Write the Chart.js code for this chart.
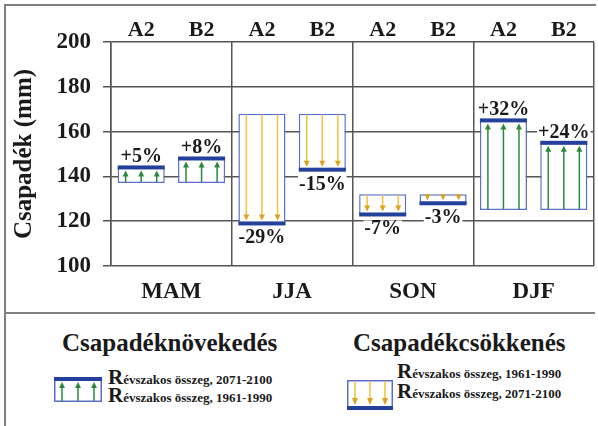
<!DOCTYPE html>
<html>
<head>
<meta charset="utf-8">
<script src="https://cdn.jsdelivr.net/npm/chart.js@4/dist/chart.umd.min.js"></script>
<style>
html,body{margin:0;padding:0;background:#fff;}
body{width:598px;height:426px;position:relative;overflow:hidden;font-family:'Liberation Serif',serif;color:#1a1a1a;}
#frameL{position:absolute;left:4px;top:4px;width:2px;height:430px;background:#808080;}
#frameT{position:absolute;left:4px;top:4px;width:592px;height:2px;background:#808080;}
#divider{position:absolute;left:4px;top:312px;width:591px;height:2px;background:#808080;}
#chartBox{position:absolute;left:6px;top:6px;width:592px;height:306px;}
.leg{position:absolute;font-family:'Liberation Serif',serif;font-weight:bold;line-height:1;white-space:nowrap;}
.ttl{font-size:25px;}
.r{font-size:21px;}
.r span{font-size:13px;}
svg.icon{position:absolute;}
</style>
</head>
<body>
<div id="frameL"></div>
<div id="frameT"></div>
<div id="chartBox"><canvas id="c" width="592" height="306"></canvas></div>
<div id="divider"></div>

<div class="leg ttl" style="left:62px;top:330px;">Csapadéknövekedés</div>
<svg class="icon" style="left:54px;top:377px;" width="48" height="25" viewBox="0 0 48 25">
  <rect x="0.75" y="0.75" width="46.5" height="23.5" fill="#fff" stroke="#5b6fc9" stroke-width="1.5"/>
  <g stroke="#2a8a3c" stroke-width="1.5"><line x1="8" y1="24" x2="8" y2="9"/><line x1="24" y1="24" x2="24" y2="9"/><line x1="40" y1="24" x2="40" y2="9"/></g>
  <g fill="#2a8a3c"><polygon points="5,11 11,11 8,5"/><polygon points="21,11 27,11 24,5"/><polygon points="37,11 43,11 40,5"/></g>
  <rect x="0" y="0" width="48" height="4" fill="#22409c"/>
</svg>
<div class="leg r" style="left:108px;top:367px;">R<span>évszakos összeg, 2071-2100</span></div>
<div class="leg r" style="left:108px;top:385px;">R<span>évszakos összeg, 1961-1990</span></div>

<div class="leg ttl" style="left:353px;top:330px;">Csapadékcsökkenés</div>
<svg class="icon" style="left:347px;top:380px;" width="46" height="30" viewBox="0 0 46 30">
  <rect x="0.75" y="0.75" width="44.5" height="28.5" fill="#fff" stroke="#5b6fc9" stroke-width="1.5"/>
  <g stroke="#f2c23a" stroke-width="1.5"><line x1="8" y1="1" x2="8" y2="20"/><line x1="23" y1="1" x2="23" y2="20"/><line x1="38" y1="1" x2="38" y2="20"/></g>
  <g fill="#e0a020"><polygon points="5,18 11,18 8,25"/><polygon points="20,18 26,18 23,25"/><polygon points="35,18 41,18 38,25"/></g>
  <rect x="0" y="26" width="46" height="4" fill="#22409c"/>
</svg>
<div class="leg r" style="left:397px;top:361px;">R<span>évszakos összeg, 1961-1990</span></div>
<div class="leg r" style="left:397px;top:381px;">R<span>évszakos összeg, 2071-2100</span></div>

<script>
// ---- data ----
const seasons = ['MAM', 'JJA', 'SON', 'DJF'];
const scenarioLabels = ['A2', 'B2', 'A2', 'B2', 'A2', 'B2', 'A2', 'B2'];
const precip1961_1990 = [137, 168, 132, 125];
const precipA2_2071_2100 = [144, 119, 123, 165];
const precipB2_2071_2100 = [148, 143, 128, 155];
const changeA2 = ['+5%', '-29%', '-7%', '+32%'];
const changeB2 = ['+8%', '-15%', '-3%', '+24%'];
const yMin = 100, yMax = 200, yStep = 20;

const FONT = "'Liberation Serif', serif";
const TXT = '#1a1a1a';
const GRID = '#555555';
Chart.defaults.font.family = FONT;

const marksPlugin = {
  id: 'marks',
  afterDatasetsDraw(chart) {
    const ctx = chart.ctx;
    const ys = chart.scales.y;
    chart.data.datasets.forEach((ds, di) => {
      const meta = chart.getDatasetMeta(di);
      meta.data.forEach((bar, i) => {
        const from = precip1961_1990[i];
        const to = ds.scen[i];
        const yFrom = ys.getPixelForValue(from);
        const yTo = ys.getPixelForValue(to);
        const up = to > from;
        const w = bar.width;
        const x0 = bar.x - w / 2;
        ctx.save();
        [-0.33, 0, 0.33].forEach(f => {
          const ax = bar.x + f * w;
          if (up) {
            const tip = yTo + 3;
            ctx.strokeStyle = '#2a8a3c';
            ctx.lineWidth = 1.5;
            ctx.beginPath(); ctx.moveTo(ax, yFrom - 1); ctx.lineTo(ax, tip + 4); ctx.stroke();
            ctx.fillStyle = '#2a8a3c';
            ctx.beginPath(); ctx.moveTo(ax, tip); ctx.lineTo(ax - 3, tip + 6); ctx.lineTo(ax + 3, tip + 6); ctx.closePath(); ctx.fill();
          } else {
            const tip = yTo - 3;
            ctx.strokeStyle = '#f2c23a';
            ctx.lineWidth = 1.5;
            ctx.beginPath(); ctx.moveTo(ax, yFrom + 1); ctx.lineTo(ax, tip - 4); ctx.stroke();
            ctx.fillStyle = '#e0a020';
            ctx.beginPath(); ctx.moveTo(ax, tip); ctx.lineTo(ax - 3, tip - 6); ctx.lineTo(ax + 3, tip - 6); ctx.closePath(); ctx.fill();
          }
        });
        ctx.fillStyle = '#22409c';
        ctx.fillRect(x0, yTo - 2, w, 4);
        ctx.font = "bold 20px 'Liberation Serif', serif";
        ctx.textAlign = 'center';
        ctx.textBaseline = 'alphabetic';
        const txt = ds.change[i];
        const tw = ctx.measureText(txt).width;
        const by = up ? yTo - 5 : yTo + 20;
        ctx.fillStyle = '#fff';
        ctx.fillRect(bar.x - tw / 2 - 1, by - 14, tw + 2, 16);
        ctx.fillStyle = TXT;
        ctx.fillText(txt, bar.x, by);
        ctx.restore();
      });
    });
  }
};

const mk = (arr) => seasons.map((s, i) => [precip1961_1990[i], arr[i]]);

new Chart(document.getElementById('c'), {
  type: 'bar',
  data: {
    labels: seasons,
    datasets: [
      { label: 'A2', data: mk(precipA2_2071_2100), scen: precipA2_2071_2100, change: changeA2,
        backgroundColor: '#ffffff', borderColor: '#5b6fc9', borderWidth: 1.5, borderSkipped: false,
        barPercentage: 0.78, categoryPercentage: 1, xAxisID: 'x' },
      { label: 'B2', data: mk(precipB2_2071_2100), scen: precipB2_2071_2100, change: changeB2,
        backgroundColor: '#ffffff', borderColor: '#5b6fc9', borderWidth: 1.5, borderSkipped: false,
        barPercentage: 0.78, categoryPercentage: 1, xAxisID: 'x' }
    ]
  },
  options: {
    responsive: false,
    animation: false,
    layout: { padding: { left: 0, right: 4, top: 0, bottom: 0 } },
    plugins: { legend: { display: false }, tooltip: { enabled: false } },
    scales: {
      x: {
        position: 'bottom',
        grid: { offset: true, color: GRID, lineWidth: 1.5, drawTicks: false },
        border: { display: false },
        ticks: { color: TXT, font: { family: FONT, size: 23, weight: 'bold' }, padding: 12 },
        afterFit(s) { s.height = 46; }
      },
      x2: {
        type: 'category',
        position: 'top',
        labels: scenarioLabels,
        offset: true,
        grid: { display: false, drawTicks: false },
        border: { display: false },
        ticks: { color: TXT, font: { family: FONT, size: 22, weight: 'bold' }, padding: -2 },
        afterFit(s) { s.height = 36; }
      },
      y: {
        min: yMin, max: yMax,
        ticks: { stepSize: yStep, color: TXT, font: { family: FONT, size: 23, weight: 'bold' }, padding: 12 },
        grid: { color: GRID, lineWidth: 1.5, tickLength: 8 },
        border: { display: true, color: GRID, width: 1.5 },
        title: { display: true, text: 'Csapadék (mm)', color: TXT, font: { family: FONT, size: 25, weight: 'bold' }, padding: { top: 4, bottom: 0 } },
        afterFit(s) { s.width = 105; }
      }
    }
  },
  plugins: [marksPlugin]
});
</script>
</body>
</html>
